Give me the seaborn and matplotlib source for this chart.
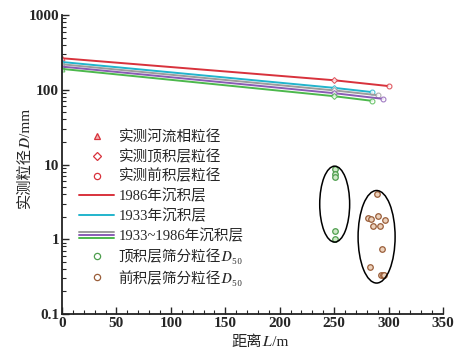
import numpy as np
import pandas as pd
import matplotlib
matplotlib.use("Agg")
import matplotlib.pyplot as plt
import seaborn as sns
from matplotlib.lines import Line2D
from matplotlib.patches import Ellipse
from matplotlib.legend_handler import HandlerBase
from matplotlib.ticker import FixedLocator, FixedFormatter, MultipleLocator, LogLocator, NullFormatter

# datos de las lineas (distancia, diametro)
x_1986 = [0, 250, 300]
d_1986 = [264, 134, 112]
x_1933 = [0, 250, 285]
d_1933 = [235, 106, 93]
x_gris = [0, 250, 290]
d_gris = [219, 98, 84.5]
x_morado = [0, 250, 295]
d_morado = [204, 90, 75.5]
x_verde = [0, 250, 285]
d_verde = [190, 82, 71]

# puntos de tamizado
x_top = [251, 251, 251, 251, 251]
d_top = [8.7, 7.5, 6.8, 1.3, 1.02]
x_fore = [289, 281, 284, 290, 297, 286, 292, 294, 283, 293, 294.5, 296]
d_fore = [4.05, 1.9, 1.88, 2.06, 1.79, 1.5, 1.5, 0.75, 0.42, 0.33, 0.33, 0.33]

xticks = [0, 50, 100, 150, 200, 250, 300, 350]
yticks = [0.1, 1, 10, 100, 1000]
ytick_labels = ['0.1', '1', '10', '100', '1000']

sns.set_style('ticks')
# STIXGeneral para las letras cursivas matematicas (unicode)
plt.rcParams['font.family'] = ['Liberation Serif', 'Noto Sans CJK SC', 'STIXGeneral', 'DejaVu Serif']
plt.rcParams['axes.unicode_minus'] = False

fig = plt.figure(figsize=(4.65, 3.56), dpi=100)
ax = fig.add_axes([62/465, 1-314/356, 381/465, 299/356])

lineas = [
    (x_1986, d_1986, '#d8323c'),
    (x_1933, d_1933, '#22b4cc'),
    (x_gris, d_gris, '#9c9c9c'),
    (x_morado, d_morado, '#8a5cb4'),
    (x_verde, d_verde, '#4cb84c'),
]
marcas = ['^', 'D', 'o']
for xs, ds, col in lineas:
    df = pd.DataFrame({'L': xs, 'D': ds})
    sns.lineplot(data=df, x='L', y='D', color=col, lw=1.4, ax=ax, legend=False)
    for i in range(len(xs)):
        ax.plot(xs[i], ds[i], marker=marcas[i], ms=3.5 if marcas[i] != 'D' else 3,
                mfc='white', mec=col, mew=0.8, ls='none', alpha=0.8)

df_top = pd.DataFrame({'L': x_top, 'D': d_top})
df_fore = pd.DataFrame({'L': x_fore, 'D': d_fore})
sns.scatterplot(data=df_top, x='L', y='D', ax=ax, s=16, facecolor='#cfe8c8',
                edgecolor='#4e9e4e', linewidth=0.9, legend=False)
sns.scatterplot(data=df_fore, x='L', y='D', ax=ax, s=16, facecolor='#ecd2bc',
                edgecolor='#9a5e3a', linewidth=0.9, legend=False)

ax.set_yscale('log')
ax.set_xlim(0, 350)
ax.set_ylim(0.1, 1000)

# elipses en coordenadas de ejes
def frac_y(v):
    return (np.log10(v) + 1) / 4

ax.add_patch(Ellipse((250.5/350, frac_y(10**0.47)), 27.5/350, 1.016/4,
                     transform=ax.transAxes, fill=False, ec='black', lw=1.1))
ax.add_patch(Ellipse((289/350, frac_y(10**0.033)), 34/350, 1.238/4,
                     transform=ax.transAxes, fill=False, ec='black', lw=1.1))

ax.xaxis.set_major_locator(FixedLocator(xticks))
ax.xaxis.set_minor_locator(MultipleLocator(10))
ax.yaxis.set_major_locator(FixedLocator(yticks))
ax.yaxis.set_major_formatter(FixedFormatter(ytick_labels))
ax.yaxis.set_minor_locator(LogLocator(base=10, subs=np.arange(2, 10)))
ax.yaxis.set_minor_formatter(NullFormatter())
ax.tick_params(which='major', direction='in', length=5, width=1, labelsize=11, pad=2)
ax.tick_params(which='minor', direction='in', length=3, width=0.8)
for t in ax.get_xticklabels() + ax.get_yticklabels():
    t.set_fontweight('bold')
sns.despine(ax=ax)
for s in ['left', 'bottom']:
    ax.spines[s].set_linewidth(1.3)
    ax.spines[s].set_color('#222222')

ax.set_xlabel('距离\U0001D43F/m', fontsize=11)
ax.set_ylabel('实测粒径\U0001D437/mm', fontsize=11)
ax.xaxis.set_label_coords(0.52, -0.07)
ax.yaxis.set_label_coords(-0.08, 0.525)


class TresLineas(HandlerBase):
    def create_artists(self, legend, orig, xd, yd, w, h, fs, trans):
        cols = ['#9c9c9c', '#8a5cb4', '#4cb84c']
        arts = []
        for k, c in enumerate(cols):
            y = h / 2 + (1 - k) * 2.2
            arts.append(Line2D([-xd, -xd + w], [y - yd, y - yd], color=c, lw=1.4, transform=trans))
        return arts


class Multi:
    pass


h_tri = Line2D([], [], marker='^', ls='none', mfc='#f2b0b0', mec='#d8323c', ms=5, mew=0.9)
h_dia = Line2D([], [], marker='D', ls='none', mfc='white', mec='#d8323c', ms=4, mew=0.9)
h_cir = Line2D([], [], marker='o', ls='none', mfc='white', mec='#d8323c', ms=4.5, mew=0.9)
h_86 = Line2D([], [], color='#d8323c', lw=1.4)
h_33 = Line2D([], [], color='#22b4cc', lw=1.4)
h_mix = Multi()
h_top = Line2D([], [], marker='o', ls='none', mfc='white', mec='#4e9e4e', ms=4.5, mew=0.9)
h_fore = Line2D([], [], marker='o', ls='none', mfc='white', mec='#9a5e3a', ms=4.5, mew=0.9)

ax.legend([h_tri, h_dia, h_cir, h_86, h_33, h_mix, h_top, h_fore],
          ['实测河流相粒径', '实测顶积层粒径', '实测前积层粒径', '1986年沉积层', '1933年沉积层',
           '1933~1986年沉积层', '顶积层筛分粒径\U0001D437\u2085\u2080', '前积层筛分粒径\U0001D437\u2085\u2080'],
          handler_map={Multi: TresLineas()}, loc='upper left', bbox_to_anchor=(0.03, 0.635),
          frameon=False, fontsize=10.5, handlelength=2.4, handletextpad=0.3,
          labelspacing=0.37, borderaxespad=0)

fig.savefig('out.png', dpi=100)
